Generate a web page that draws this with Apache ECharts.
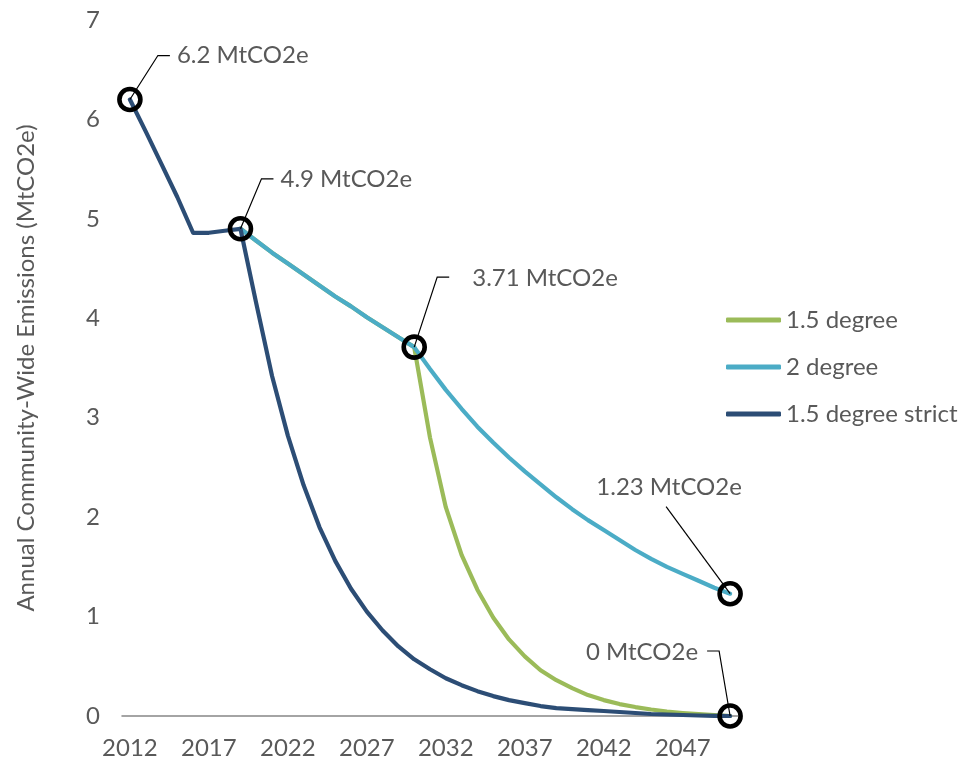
<!DOCTYPE html>
<html>
<head>
<meta charset="utf-8">
<title>Annual Community-Wide Emissions</title>
<script src="https://cdn.jsdelivr.net/npm/echarts@6/dist/echarts.min.js"></script>
<style>
  html, body { margin: 0; padding: 0; background: #ffffff; }
  #chart { width: 978px; height: 761px; }
</style>
</head>
<body>
<div id="chart"></div>
<script>
// Years on the horizontal axis
const years = [];
for (let y = 2012; y <= 2050; y++) years.push(String(y));

// Emission pathways, MtCO2e per year ('-' = no value for that year)
const strict15 = [
  6.2, 5.88, 5.55, 5.22, 4.86, 4.86, 4.88, 4.9,
  4.15, 3.42, 2.82, 2.32, 1.90, 1.56, 1.28, 1.05, 0.86, 0.70, 0.57,
  0.47, 0.38, 0.31, 0.25, 0.20, 0.16, 0.13, 0.10, 0.08, 0.07,
  0.06, 0.05, 0.04, 0.03, 0.02, 0.015, 0.01, 0.005, 0.002, 0
];
const deg2 = [
  '-', '-', '-', '-', '-', '-', '-', 4.9,
  4.78, 4.66, 4.55, 4.44, 4.33, 4.22, 4.12, 4.01, 3.91, 3.81, 3.71,
  3.49, 3.28, 3.09, 2.91, 2.75, 2.60, 2.46, 2.33, 2.20, 2.08,
  1.97, 1.87, 1.77, 1.67, 1.58, 1.50, 1.43, 1.36, 1.29, 1.23
];
const deg15 = [
  '-', '-', '-', '-', '-', '-', '-', 4.9,
  4.78, 4.66, 4.55, 4.44, 4.33, 4.22, 4.12, 4.01, 3.91, 3.81, 3.71,
  2.80, 2.10, 1.62, 1.27, 0.99, 0.77, 0.60, 0.46, 0.36, 0.28,
  0.21, 0.16, 0.12, 0.09, 0.065, 0.045, 0.03, 0.018, 0.008, 0
];

// Highlighted milestones
const markYears = ['2012', '2019', '2030', '2050', '2050'];
const markValues = [6.2, 4.9, 3.71, 1.23, 0];
const unit = ' MtCO2e';

// Y axis ticks
const yTicks = [0, 1, 2, 3, 4, 5, 6, 7];

// Callout geometry, pixel offsets from each milestone point
const callouts = [
  { bend: [28, -44], end: [40, -44], text: [47, -44], align: 'left' },
  { bend: [21, -50], end: [33, -50], text: [40, -50], align: 'left' },
  { bend: [23, -70], end: [35, -70], text: [58, -69], align: 'left' },
  { bend: [-64, -87], end: [-64, -87], text: [-61, -106], align: 'center' },
  { bend: [-11, -65], end: [-23, -65], text: [-32, -64], align: 'right' }
];

const FONT = 'Lato, "Open Sans", sans-serif';
const TEXT_COLOR = '#595959';
const FS = 24;

const chart = echarts.init(document.getElementById('chart'), null, { renderer: 'canvas' });

function lineSeries(name, data, color) {
  return {
    name: name,
    type: 'line',
    data: data,
    showSymbol: false,
    symbol: 'none',
    smooth: false,
    connectNulls: false,
    lineStyle: { color: color, width: 4.2, cap: 'round', join: 'round' },
    itemStyle: { color: color },
    emphasis: { disabled: true },
    silent: true
  };
}

const markData = markYears.map((y, i) => [years.indexOf(y), markValues[i], i]);

const option = {
  animation: false,
  backgroundColor: '#ffffff',
  textStyle: { fontFamily: FONT },
  grid: { left: 122, right: 240, top: 20, bottom: 45, containLabel: false },
  legend: {
    orient: 'vertical',
    left: 721,
    top: 303,
    itemWidth: 55,
    itemHeight: 5,
    itemGap: 23,
    icon: 'roundRect',
    selectedMode: false,
    data: ['1.5 degree', '2 degree', '1.5 degree strict'],
    textStyle: { color: TEXT_COLOR, fontSize: FS, fontFamily: FONT }
  },
  xAxis: {
    type: 'category',
    data: years,
    boundaryGap: true,
    axisLine: { lineStyle: { color: '#868686', width: 1.5 } },
    axisTick: { show: false },
    axisLabel: {
      interval: 4,
      color: TEXT_COLOR,
      fontSize: FS,
      fontFamily: FONT,
      margin: 20
    },
    splitLine: { show: false }
  },
  yAxis: {
    type: 'value',
    min: yTicks[0],
    max: yTicks[yTicks.length - 1],
    interval: 1,
    name: 'Annual Community-Wide Emissions (MtCO2e)',
    nameLocation: 'middle',
    nameGap: 84,
    nameTextStyle: { color: TEXT_COLOR, fontSize: FS, fontFamily: FONT },
    axisLine: { show: false },
    axisTick: { show: false },
    splitLine: { show: false },
    axisLabel: { color: TEXT_COLOR, fontSize: FS, fontFamily: FONT, margin: 22 }
  },
  series: [
    lineSeries('1.5 degree', deg15, '#9BBB59'),
    lineSeries('2 degree', deg2, '#4BACC6'),
    lineSeries('1.5 degree strict', strict15, '#2C4D75'),
    {
      type: 'custom',
      name: 'milestones',
      data: markData,
      encode: { x: 0, y: 1 },
      clip: false,
      z: 10,
      silent: true,
      renderItem: function (params, api) {
        const p = api.coord([api.value(0), api.value(1)]);
        const idx = api.value(2);
        const c = callouts[idx];
        const x = p[0], y = p[1];
        return {
          type: 'group',
          children: [
            {
              type: 'polyline',
              shape: { points: [[x, y], [x + c.bend[0], y + c.bend[1]], [x + c.end[0], y + c.end[1]]] },
              style: { stroke: '#000000', lineWidth: 1.2, fill: null }
            },
            {
              type: 'circle',
              shape: { cx: x, cy: y, r: 10.5 },
              style: { stroke: '#000000', lineWidth: 4.6, fill: null }
            },
            {
              type: 'text',
              x: x + c.text[0],
              y: y + c.text[1],
              style: {
                text: markValues[idx] + unit,
                fill: TEXT_COLOR,
                font: FS + 'px ' + FONT,
                align: c.align,
                verticalAlign: 'middle'
              }
            }
          ]
        };
      }
    }
  ]
};

chart.setOption(option);
</script>
</body>
</html>
